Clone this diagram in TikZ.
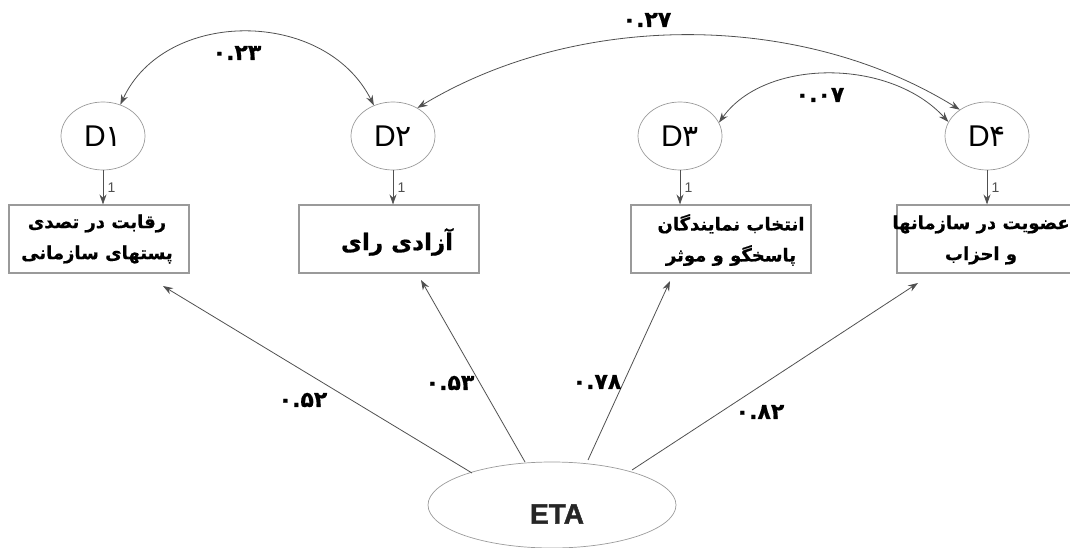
\documentclass[tikz,border=0pt]{standalone}
\usepackage{fontspec}
\usetikzlibrary{shapes.geometric,arrows.meta,calc}
\setmainfont{Liberation Sans}
\newfontfamily\fa[Script=Arabic]{DejaVu Sans}
\newfontfamily\fab[Script=Arabic,FakeBold=0.6]{DejaVu Sans Bold}
\newfontfamily\etafont[FakeBold=1.5]{Liberation Sans Bold}
\TeXXeTstate=1
\definecolor{ln}{HTML}{505050}
\definecolor{bx}{HTML}{9A9A9A}
\begin{document}
\begin{tikzpicture}[x=1pt,y=-1pt,
 dnode/.style={ellipse,draw=bx,line width=0.7pt,minimum width=84pt,minimum height=68pt,inner sep=0pt,font=\fontsize{30}{32}\selectfont},
 obox/.style={rectangle,draw=bx,line width=1.1pt,minimum width=180pt,minimum height=68pt,inner sep=0pt},
 arr/.style={draw=ln,line width=0.8pt,-{Stealth[length=10pt,width=7pt]}},
 darr/.style={draw=ln,line width=0.8pt,{Stealth[length=10pt,width=7pt]}-{Stealth[length=10pt,width=7pt]}},
 coef/.style={font=\fab\fontsize{22}{24}\selectfont},
 one/.style={font=\fontsize{14}{16}\selectfont,text=ln},
 ptxt/.style={font=\fab\fontsize{18}{31}\selectfont,align=center,inner sep=0pt}
]
\useasboundingbox (0,0) rectangle (1070,548);
\clip (0,0) rectangle (1070,548);
% latent error terms
\node[dnode] (d1) at (103,136) {D{\fa ۱}};
\node[dnode] (d2) at (393,136) {D{\fa ۲}};
\node[dnode] (d3) at (680,136) {D{\fa ۳}};
\node[dnode] (d4) at (987,136) {D{\fa ۴}};
% observed boxes
\node[obox] (b1) at (99,239) {};
\node[obox] (b2) at (389,239) {};
\node[obox] (b3) at (721,239) {};
\node[obox] (b4) at (987,239) {};
\node[ptxt] (t1) at (97,239) {\beginR رقابت در تصدی\endR\\\beginR پستهای سازمانی\endR};
\node[ptxt,font=\fab\fontsize{23}{26}\selectfont] (t2) at (397,242) {\beginR آزادی رای\endR};
\node[ptxt] (t3) at (731,240) {\beginR انتخاب نمایندگان\endR\\\beginR پاسخگو و موثر\endR};
\node[ptxt] (t4) at (981,240) {\beginR عضویت در سازمانها\endR\\\beginR و احزاب\endR};
% ETA
\node[ellipse,draw=bx,line width=0.7pt,minimum width=248pt,minimum height=86pt,inner sep=0pt] (eta) at (552,505) {};
\node[font=\etafont\fontsize{28}{30}\selectfont,text=black!85] (etal) at (557,514) {ETA};
% D -> box
\draw[arr] (d1.south) -- node[right,one,xshift=1pt]{1} (d1.south |- b1.north);
\draw[arr] (d2.south) -- node[right,one,xshift=1pt]{1} (d2.south |- b2.north);
\draw[arr] (d3.south) -- node[right,one,xshift=1pt]{1} (d3.south |- b3.north);
\draw[arr] (d4.south) -- node[right,one,xshift=1pt]{1} (d4.south |- b4.north);
% ETA -> boxes
\coordinate (s1) at (472,473); \coordinate (e1) at (163,286);
\coordinate (s2) at (525,462); \coordinate (e2) at (421,280);
\coordinate (s3) at (588,460); \coordinate (e3) at (670,281);
\coordinate (s4) at (632,470); \coordinate (e4) at (918,283);
\draw[arr] (s1) -- (e1);
\draw[arr] (s2) -- (e2);
\draw[arr] (s3) -- (e3);
\draw[arr] (s4) -- (e4);
\node[coef] (c1) at (303,400) {۰.۵۲};
\node[coef] (c2) at (450,383) {۰.۵۳};
\node[coef] (c3) at (597,382) {۰.۷۸};
\node[coef] (c4) at (760,412) {۰.۸۲};
% covariances
\draw[darr] (d1.61) .. controls (165,8) and (325,8) .. (d2.122);
\draw[darr] (d2.49) .. controls (578,11) and (800,11) .. (d4.136);
\draw[darr] (d3.19) .. controls (765,58) and (890,58) .. (d4.160);
\node[coef] (c12) at (237,53) {۰.۲۳};
\node[coef] (c24) at (647,20) {۰.۲۷};
\node[coef] (c34) at (820,95) {۰.۰۷};
\end{tikzpicture}
\end{document}
